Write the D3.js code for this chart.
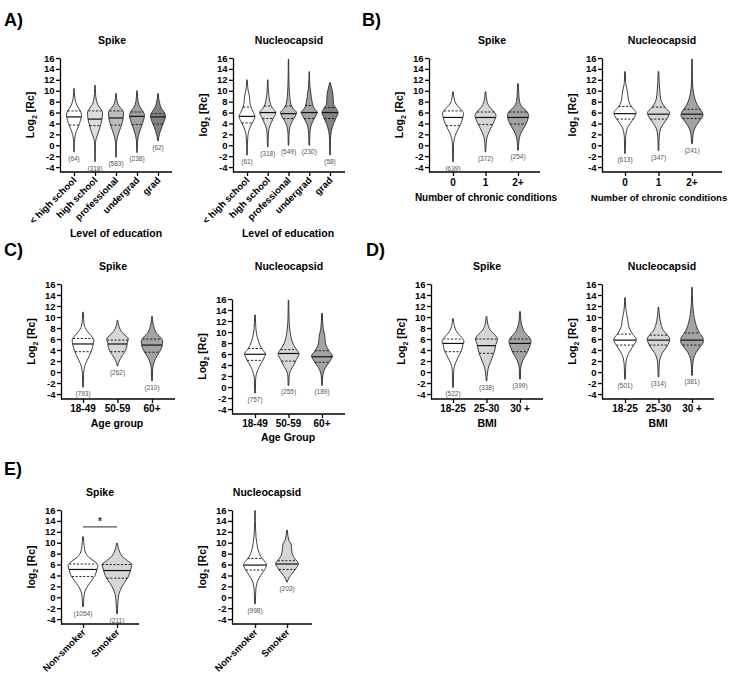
<!DOCTYPE html>
<html><head><meta charset="utf-8">
<script src="https://cdn.jsdelivr.net/npm/d3@7"></script>
<style>
body{margin:0;background:#fff;}
svg{font-family:"Liberation Sans",Arial,sans-serif;}
</style></head><body>
<svg id="fig" width="732" height="679"></svg>
<script>
// ---------- DATA ----------
const yTicks = [-4,-2,0,2,4,6,8,10,12,14,16];

const eduCats = ["< high school","high school","professional","undergrad","grad"];
const chronicCats = ["0","1","2+"];
const ageCats = ["18-49","50-59","60+"];
const bmiCats = ["18-25","25-30","30 +"];
const smokeCats = ["Non-smoker","Smoker"];

// n per violin
const eduSpikeN = [64,318,583,238,62];
const eduNucN = [61,318,549,230,58];
const chronicSpikeN = [639,372,254];
const chronicNucN = [613,347,241];
const ageSpikeN = [793,262,210];
const ageNucN = [757,255,189];
const bmiSpikeN = [522,338,399];
const bmiNucN = [501,314,381];
const smokeSpikeN = [1054,211];
const smokeNucN = [998,203];

// quartiles [q1, median, q3] (log2 Rc)
const eduSpikeQ = [[3.7,5.2,6.3],[3.6,4.8,6.3],[3.7,5.0,6.3],[3.8,5.3,6.1],[3.9,5.2,5.8]];
const eduNucQ = [[4.1,5.3,7.0],[4.9,6.0,7.2],[4.9,5.8,7.2],[4.9,6.0,7.3],[4.9,6.0,6.9]];
const chronicSpikeQ = [[3.6,5.1,6.3],[3.8,5.1,6.1],[3.9,5.1,6.1]];
const chronicNucQ = [[4.8,5.8,7.1],[4.8,5.7,7.0],[4.9,5.7,6.6]];
const ageSpikeQ = [[3.7,5.1,6.1],[3.7,5.1,5.8],[3.6,4.9,6.0]];
const ageNucQ = [[4.85,5.95,7.0],[4.7,6.1,6.8],[4.5,5.5,6.6]];
const bmiSpikeQ = [[3.7,5.2,6.0],[3.4,4.8,6.0],[3.7,5.2,6.0]];
const bmiNucQ = [[4.9,5.8,6.9],[4.9,5.8,6.7],[4.9,5.8,7.1]];
const smokeSpikeQ = [[3.8,5.1,6.1],[3.5,4.9,6.0]];
const smokeNucQ = [[5.0,5.9,7.1],[5.1,6.1,6.7]];

// violin outlines: [value, relative half-width], min → max
const eduSpikeShape = [
 [[-1.2,0.03],[0.5,0.05],[1.5,0.12],[2.5,0.3],[3.5,0.6],[4.5,0.85],[5.5,1.0],[6.3,0.85],[7,0.5],[7.8,0.25],[8.8,0.1],[10.4,0.03]],
 [[-3,0.03],[0,0.05],[1,0.12],[2,0.35],[3,0.6],[4,0.8],[5,0.95],[6,1.0],[6.8,0.7],[7.5,0.35],[8.5,0.15],[9.5,0.07],[11,0.03]],
 [[-2.2,0.03],[0,0.05],[1,0.12],[2,0.3],[3,0.55],[4,0.8],[5,0.95],[6,1.0],[6.7,0.7],[7.3,0.35],[8,0.15],[9.5,0.03]],
 [[-1.3,0.03],[0.5,0.06],[1.5,0.15],[2.5,0.35],[3.5,0.6],[4.5,0.85],[5.5,1.0],[6.2,0.8],[7,0.4],[8,0.15],[10,0.03]],
 [[0.8,0.03],[1.5,0.1],[2.5,0.3],[3.5,0.55],[4.5,0.85],[5.3,1.0],[6,0.85],[6.8,0.45],[7.8,0.2],[9.5,0.03]]
];
const eduNucShape = [
 [[-1.8,0.03],[0,0.05],[1.5,0.1],[2.5,0.2],[3.5,0.45],[4.5,0.8],[5.3,1.0],[6,0.8],[7,0.5],[8,0.35],[9,0.3],[10,0.15],[12,0.03]],
 [[-0.3,0.03],[1.5,0.06],[3,0.15],[4,0.4],[5,0.7],[6,1.0],[6.8,0.6],[7.5,0.35],[8.5,0.2],[10,0.08],[12,0.03]],
 [[0,0.03],[2,0.06],[3.5,0.2],[4.5,0.5],[5.5,0.9],[6,1.0],[6.7,0.6],[7.5,0.3],[9,0.15],[11,0.07],[13,0.04],[15.8,0.02]],
 [[0,0.03],[2,0.07],[3.5,0.2],[4.5,0.5],[5.5,0.85],[6,1.0],[6.8,0.6],[8,0.35],[9.5,0.2],[11,0.08],[13.5,0.02]],
 [[-1.8,0.03],[1,0.06],[2.5,0.15],[4,0.45],[5,0.75],[6,1.0],[6.8,0.75],[7.5,0.45],[8.5,0.4],[9.5,0.35],[10.5,0.2],[11.5,0.03]]
];
const chronicSpikeShape = [
 [[-3,0.03],[0,0.05],[1,0.1],[2,0.25],[3,0.5],[4,0.75],[5,0.92],[5.8,1.0],[6.5,0.8],[7.3,0.4],[8.2,0.15],[9.8,0.03]],
 [[-1.2,0.03],[0.5,0.07],[1.5,0.15],[2.5,0.35],[3.5,0.6],[4.5,0.85],[5.5,1.0],[6.3,0.75],[7,0.4],[8,0.15],[9.8,0.03]],
 [[-0.9,0.03],[0.5,0.07],[1.5,0.15],[2.5,0.35],[3.5,0.65],[4.5,0.9],[5.5,1.0],[6.3,0.8],[7,0.4],[8,0.15],[9.5,0.07],[11.3,0.03]]
];
const chronicNucShape = [
 [[-1.5,0.03],[1,0.05],[2.5,0.12],[3.5,0.3],[4.5,0.65],[5.5,0.95],[6,1.0],[6.8,0.7],[7.5,0.45],[8.5,0.3],[9.5,0.25],[10.5,0.15],[11.5,0.06],[13.5,0.03]],
 [[-1,0.03],[1,0.05],[2.5,0.12],[3.5,0.3],[4.5,0.65],[5.5,0.95],[6,1.0],[6.8,0.65],[7.5,0.4],[8.5,0.2],[10,0.12],[11.5,0.06],[13.5,0.03]],
 [[0.3,0.03],[1.5,0.07],[2.5,0.15],[3.5,0.35],[4.5,0.7],[5.5,1.0],[6.2,0.9],[7,0.6],[8,0.35],[9,0.2],[10.5,0.08],[12,0.04],[15.8,0.02]]
];
const ageSpikeShape = [
 [[-2.75,0.03],[-0.5,0.05],[1,0.15],[2,0.35],[3,0.6],[4,0.8],[5,0.95],[5.8,1.0],[6.5,0.8],[7.3,0.45],[8.3,0.15],[9.5,0.06],[10.9,0.03]],
 [[1.1,0.03],[2,0.15],[3,0.45],[3.8,0.7],[4.5,0.85],[5.3,0.9],[6,1.0],[6.7,0.7],[7.4,0.35],[8.2,0.15],[9.4,0.03]],
 [[-1.6,0.03],[0.5,0.06],[1.5,0.15],[2.5,0.35],[3.5,0.65],[4.5,0.9],[5.5,1.0],[6.3,0.8],[7,0.45],[8,0.2],[10.1,0.03]]
];
const ageNucShape = [
 [[-1.1,0.03],[1.5,0.06],[2.5,0.15],[3.5,0.35],[4.5,0.65],[5.5,0.9],[6,1.0],[6.8,0.7],[7.5,0.5],[8.5,0.3],[10,0.12],[11.5,0.06],[13.1,0.03]],
 [[0.3,0.03],[2,0.06],[3,0.2],[4,0.5],[5,0.75],[6,1.0],[7,0.7],[8,0.4],[9,0.25],[10.5,0.12],[12.5,0.05],[15.8,0.02]],
 [[0.3,0.03],[2,0.07],[3,0.2],[4,0.5],[5,0.85],[5.6,1.0],[6.5,0.7],[7.5,0.4],[8.5,0.3],[9.5,0.25],[10.5,0.12],[13.4,0.03]]
];
const bmiSpikeShape = [
 [[-2.8,0.03],[0,0.06],[1,0.12],[2,0.3],[3,0.55],[4,0.8],[5,0.9],[5.5,1.0],[6.3,0.8],[7,0.45],[8,0.18],[9.7,0.03]],
 [[-1.6,0.03],[0,0.1],[1,0.2],[2,0.4],[3,0.6],[4,0.75],[5,0.85],[6,1.0],[6.8,0.75],[7.5,0.4],[8.5,0.15],[10.1,0.03]],
 [[-1.3,0.03],[0.5,0.06],[1.5,0.15],[2.5,0.35],[3.5,0.65],[4.5,0.85],[5.5,1.0],[6.3,0.85],[7,0.5],[8,0.25],[9,0.1],[11,0.03]]
];
const bmiNucShape = [
 [[-1.3,0.03],[1,0.06],[2.5,0.15],[3.5,0.35],[4.5,0.65],[5.5,0.95],[6,1.0],[6.8,0.7],[7.5,0.5],[8.5,0.3],[9.5,0.25],[10.5,0.15],[12,0.05],[13.5,0.03]],
 [[-0.9,0.03],[1.5,0.07],[2.5,0.15],[3.5,0.35],[4.5,0.7],[5.5,0.95],[6,1.0],[6.8,0.75],[7.5,0.45],[8.5,0.25],[10,0.1],[11.8,0.03]],
 [[-0.6,0.03],[1.5,0.07],[2.5,0.15],[3.5,0.35],[4.5,0.7],[5.5,1.0],[6.3,0.95],[7,0.7],[8,0.45],[9,0.3],[10.5,0.15],[12.5,0.06],[15.4,0.02]]
];
const smokeSpikeShape = [
 [[-1.7,0.03],[0,0.06],[1,0.12],[2,0.3],[3,0.55],[4,0.8],[5,0.92],[5.8,1.0],[6.5,0.8],[7.3,0.4],[8.3,0.15],[9.5,0.07],[11.1,0.03]],
 [[-3,0.03],[-1,0.06],[0.5,0.12],[1.5,0.25],[2.5,0.45],[3.5,0.7],[4.5,0.85],[5.5,0.95],[6,1.0],[6.7,0.7],[7.5,0.35],[8.5,0.15],[9.9,0.03]]
];
const smokeNucShape = [
 [[-1.2,0.03],[1,0.06],[2.5,0.15],[3.5,0.35],[4.5,0.65],[5.5,0.95],[6,1.0],[6.8,0.75],[7.5,0.5],[8.5,0.3],[10,0.15],[12,0.06],[15.9,0.02]],
 [[2.8,0.03],[3.5,0.15],[4.5,0.5],[5.5,0.85],[6.2,1.0],[7,0.7],[8,0.45],[9,0.4],[9.8,0.35],[10.5,0.15],[12.3,0.03]]
];
// significance bar (E, Spike): value level
const smokeSpikeSig = {from:"Non-smoker", to:"Smoker", level:12.9, label:"*"};

// ---------- LAYOUT / STYLE ----------
const g5 = ["#ffffff","#dedede","#bdbdbd","#a2a2a2","#838383"];
const g3 = ["#ffffff","#d6d6d6","#a3a3a3"];
const g2 = ["#ffffff","#d6d6d6"];

const charts = [
 {cats:eduCats,n:eduSpikeN,q:eduSpikeQ,shape:eduSpikeShape,fills:g5,ax:60,ex:172,fx:74,lx:158,top:58,bot:172,hw:7.5,title:"Spike",tx:112,ty:44,ylab:"Log",xlab:"Level of education",xlx:116,xly:237,rot:true},
 {cats:eduCats,n:eduNucN,q:eduNucQ,shape:eduNucShape,fills:g5,ax:233,ex:345,fx:247,lx:330,top:58,bot:172,hw:8,title:"Nucleocapsid",tx:289,ty:44,ylab:"log",xlab:"Level of education",xlx:288,xly:237,rot:true},
 {cats:chronicCats,n:chronicSpikeN,q:chronicSpikeQ,shape:chronicSpikeShape,fills:g3,ax:429,ex:540,fx:453,lx:518,top:58,bot:172,hw:10.5,title:"Spike",tx:492,ty:44,ylab:"Log",xlab:"Number of chronic conditions",xlx:486,xly:201,xlfs:10,rot:false,tly:186},
 {cats:chronicCats,n:chronicNucN,q:chronicNucQ,shape:chronicNucShape,fills:g3,ax:602,ex:722,fx:625,lx:692,top:58,bot:172,hw:11,title:"Nucleocapsid",tx:662,ty:44,ylab:"log",xlab:"Number of chronic conditions",xlx:659,xly:201,xlfs:9.6,rot:false,tly:186},
 {cats:ageCats,n:ageSpikeN,q:ageSpikeQ,shape:ageSpikeShape,fills:g3,ax:61,ex:175,fx:83,lx:152,top:284,bot:399,hw:10.8,title:"Spike",tx:113,ty:270,ylab:"Log",xlab:"Age group",xlx:117,xly:427,rot:false,tly:412},
 {cats:ageCats,n:ageNucN,q:ageNucQ,shape:ageNucShape,fills:g3,ax:232,ex:345,fx:255,lx:322,top:299,bot:414,hw:10.5,title:"Nucleocapsid",tx:289,ty:270,ylab:"Log",xlab:"Age Group",xlx:288,xly:441,rot:false,tly:427},
 {cats:bmiCats,n:bmiSpikeN,q:bmiSpikeQ,shape:bmiSpikeShape,fills:g3,ax:431,ex:543,fx:453,lx:520,top:284,bot:399,hw:11,title:"Spike",tx:487,ty:270,ylab:"Log",xlab:"BMI",xlx:487,xly:427,rot:false,tly:412},
 {cats:bmiCats,n:bmiNucN,q:bmiNucQ,shape:bmiNucShape,fills:g3,ax:602,ex:714,fx:625,lx:692,top:284,bot:399,hw:11.3,title:"Nucleocapsid",tx:662,ty:270,ylab:"Log",xlab:"BMI",xlx:658,xly:427,rot:false,tly:412},
 {cats:smokeCats,n:smokeSpikeN,q:smokeSpikeQ,shape:smokeSpikeShape,fills:g2,ax:61,ex:139,fx:83,lx:117,top:510,bot:624,hw:15,title:"Spike",tx:100,ty:496,ylab:"log",rot:true,sig:smokeSpikeSig},
 {cats:smokeCats,n:smokeNucN,q:smokeNucQ,shape:smokeNucShape,fills:g2,ax:232,ex:312,fx:255,lx:287,top:510,bot:624,hw:11.5,title:"Nucleocapsid",tx:267,ty:496,ylab:"log",rot:true}
];
const panelLetters = [
 {t:"A)",x:4,y:26},{t:"B)",x:362,y:26},{t:"C)",x:4,y:256},{t:"D)",x:366,y:256},{t:"E)",x:4,y:475}
];

// ---------- DRAW ----------
const svg = d3.select("#fig");
svg.append("rect").attr("width",732).attr("height",679).attr("fill","#fff");

panelLetters.forEach(p=>{
  svg.append("text").attr("x",p.x).attr("y",p.y).text(p.t)
    .attr("font-size",18).attr("font-weight","bold").attr("fill","#000");
});

function widthAt(shape, v){
  for(let i=0;i<shape.length-1;i++){
    const a=shape[i], b=shape[i+1];
    if(v>=a[0] && v<=b[0]){ const t=(v-a[0])/(b[0]-a[0]); return a[1]+(b[1]-a[1])*t; }
  }
  return 0;
}

charts.forEach(c=>{
  const g = svg.append("g");
  const y = d3.scaleLinear().domain([-4.9,16]).range([c.bot,c.top]);
  const x = d3.scalePoint().domain(c.cats).range([c.fx,c.lx]);

  // title
  g.append("text").attr("x",c.tx).attr("y",c.ty).attr("text-anchor","middle")
    .attr("font-size",10.5).attr("font-weight","bold").text(c.title);

  // y axis
  const ya = g.append("g").attr("transform",`translate(${c.ax},0)`)
    .call(d3.axisLeft(y).tickValues(yTicks).tickSize(4).tickSizeOuter(0).tickPadding(1.5).tickFormat(d=>String(d)));
  ya.selectAll("path,line").attr("stroke","#000").attr("stroke-width",1.3);
  ya.selectAll("text").attr("font-size",9.5).attr("font-weight","bold").attr("fill","#000")
    .attr("font-family","'Liberation Sans',Arial,sans-serif");

  // y label
  const yl = g.append("text").attr("transform",`translate(${c.ax-26},${(c.top+c.bot)/2}) rotate(-90)`)
    .attr("text-anchor","middle").attr("font-size",10.5).attr("font-weight","bold");
  yl.append("tspan").text(c.ylab);
  yl.append("tspan").text("2").attr("font-size",7).attr("dy",3);
  yl.append("tspan").text(" [Rc]").attr("dy",-3);

  // x axis
  g.append("line").attr("x1",c.ax).attr("x2",c.ex).attr("y1",c.bot).attr("y2",c.bot)
    .attr("stroke","#000").attr("stroke-width",1.3);
  const xa = g.append("g").attr("transform",`translate(0,${c.bot})`)
    .call(d3.axisBottom(x).tickSize(4).tickSizeOuter(0));
  xa.select(".domain").remove();
  xa.selectAll("line").attr("stroke","#000").attr("stroke-width",1.3);
  xa.selectAll("text").remove();
  c.cats.forEach(cat=>{
    if(c.rot){
      g.append("text").attr("transform",`translate(${x(cat)+3},${c.bot+9}) rotate(-45)`)
        .attr("text-anchor","end").attr("font-size",9.5).attr("font-weight","bold").text(cat);
    } else {
      g.append("text").attr("x",x(cat)).attr("y",c.tly).attr("text-anchor","middle")
        .attr("font-size",10).attr("font-weight","bold").text(cat);
    }
  });
  if(c.xlab){
    g.append("text").attr("x",c.xlx).attr("y",c.xly).attr("text-anchor","middle")
      .attr("font-size",c.xlfs||10.5).attr("font-weight","bold").text(c.xlab);
  }

  // violins
  c.cats.forEach((cat,i)=>{
    const cx = x(cat), sh = c.shape[i];
    const area = d3.area().curve(d3.curveMonotoneY)
      .y(d=>y(d[0])).x0(d=>cx-d[1]*c.hw).x1(d=>cx+d[1]*c.hw);
    g.append("path").attr("d",area(sh)).attr("fill",c.fills[i])
      .attr("stroke","#2a2a2a").attr("stroke-width",0.9);
    const [q1,med,q3] = c.q[i];
    [[q1,true],[med,false],[q3,true]].forEach(([v,dash])=>{
      const w = widthAt(sh,v)*c.hw;
      g.append("line").attr("x1",cx-w).attr("x2",cx+w).attr("y1",y(v)).attr("y2",y(v))
        .attr("stroke","#111").attr("stroke-width",dash?0.9:1.2)
        .attr("stroke-dasharray",dash?"2.2,1.6":null);
    });
    // n label
    g.append("text").attr("x",cx).attr("y",y(sh[0][0])+9).attr("text-anchor","middle")
      .attr("font-size",6.5).attr("fill","#555").text(`(${c.n[i]})`);
  });

  // significance
  if(c.sig){
    const yy = y(c.sig.level);
    g.append("line").attr("x1",x(c.sig.from)).attr("x2",x(c.sig.to)).attr("y1",yy).attr("y2",yy)
      .attr("stroke","#555").attr("stroke-width",1.2);
    g.append("text").attr("x",(x(c.sig.from)+x(c.sig.to))/2).attr("y",yy-2).attr("text-anchor","middle")
      .attr("font-size",10).attr("font-weight","bold").attr("fill","#333").text(c.sig.label);
  }
});
</script>
</body></html>
